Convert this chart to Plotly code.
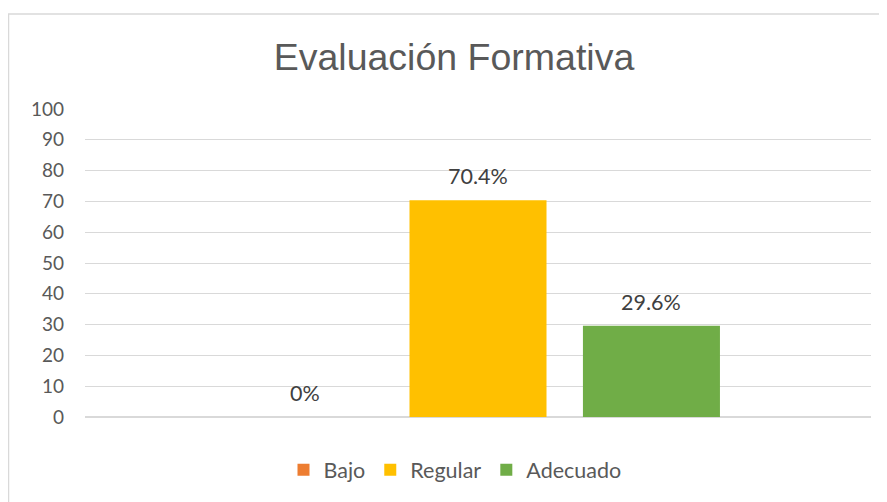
import plotly.graph_objects as go

categories = ["Evaluación Formativa"]
series_names = ["Bajo", "Regular", "Adecuado"]
series_values = [0, 70.4, 29.6]
series_labels = ["0%", "70.4%", "29.6%"]
series_colors = ["#ED7D31", "#FFC000", "#70AD47"]
y_ticks = list(range(0, 101, 10))

OFF = 8  # page body margin
W, H = 887 - OFF, 502 - OFF
L, R = 85 - OFF, 16
T = 109 - OFF
B = H - (419 - OFF)
pw, ph = W - L - R, H - T - B

BARGAP, GROUPGAP = 0.338, 0.21
slot = pw * (1 - BARGAP) / len(series_names)

fig = go.Figure()
for name, val, col in zip(series_names, series_values, series_colors):
    fig.add_trace(go.Bar(
        x=categories, y=[val], name=name,
        marker=dict(color=col, line=dict(width=0)),
    ))

n = len(series_names)
for i, (val, lab) in enumerate(zip(series_values, series_labels)):
    fig.add_annotation(x=0, y=val, text=lab, showarrow=False,
                       xshift=(i - (n - 1) / 2) * slot, yshift=24, yanchor="middle",
                       font=dict(family="Lato, Open Sans, sans-serif", size=21.5, color="#404040"))

# chart border (partially visible)
fig.add_shape(type="rect", xref="paper", yref="paper",
              x0=(8.5 - OFF - L) / pw, x1=1.2, y0=-0.6, y1=(419 - 13.5) / ph,
              line=dict(color="#d9d9d9", width=1.5), layer="below")

fig.update_layout(
    width=W, height=H,
    margin=dict(l=L, r=R, t=T, b=B),
    paper_bgcolor="white", plot_bgcolor="white",
    barmode="group", bargap=BARGAP, bargroupgap=GROUPGAP,
    title=dict(text="Evaluación Formativa", x=(454 - OFF) / W, xanchor="center",
               y=1 - (57 - OFF) / H, yanchor="middle", xref="container", yref="container",
               font=dict(family="Liberation Sans, Arial, sans-serif", size=37.5, color="#595959")),
    xaxis=dict(type="category", range=[-0.5, 0.5], showticklabels=False, showgrid=False,
               zeroline=False, showline=False, ticks=""),
    yaxis=dict(range=[0, 100], tickvals=y_ticks, showgrid=True, gridcolor="#d9d9d9", gridwidth=1,
               zeroline=True, zerolinecolor="#d9d9d9", zerolinewidth=1.5, showline=False,
               ticks="", ticklabelstandoff=20,
               tickfont=dict(family="Lato, Open Sans, sans-serif", size=19, color="#595959")),
    legend=dict(orientation="h", x=(455 - 85) / pw, xanchor="center", y=(419 - 472) / ph,
                yanchor="middle", traceorder="normal",
                font=dict(family="Lato, Open Sans, sans-serif", size=21.5, color="#595959"),
                itemwidth=30),
    showlegend=True,
)

fig.write_html("out.html")
